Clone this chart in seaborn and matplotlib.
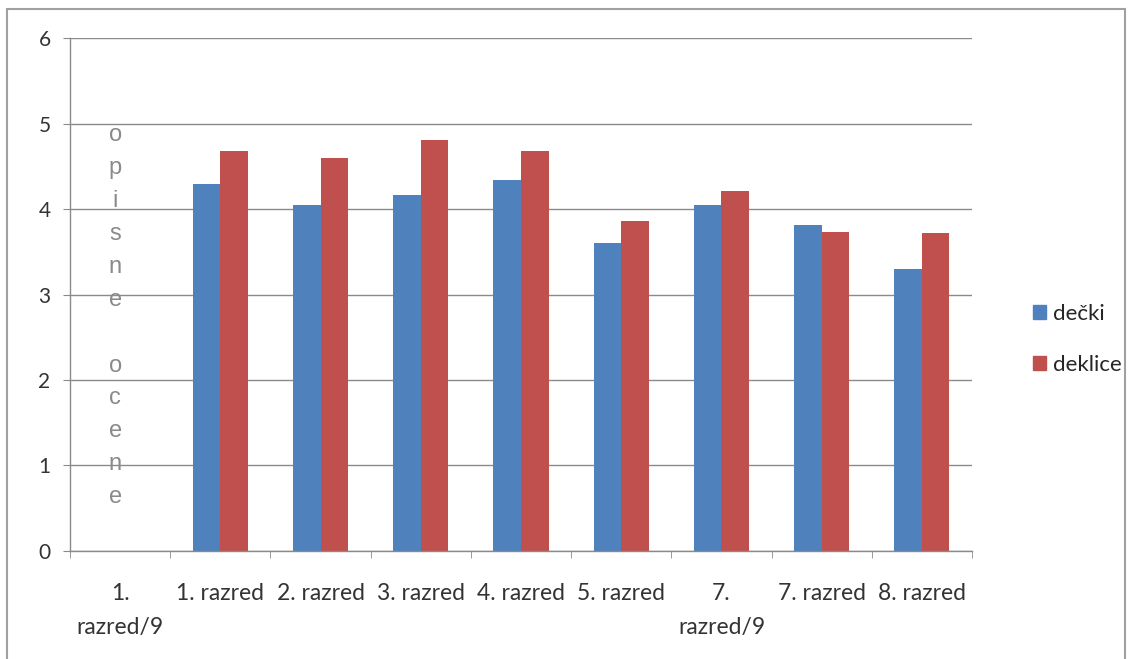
import matplotlib.pyplot as plt
import matplotlib.patches as mpatches
import numpy as np
import pandas as pd
import seaborn as sns

categories = ["1.\nrazred/9", "1. razred", "2. razred", "3. razred", "4. razred",
              "5. razred", "7.\nrazred/9", "7. razred", "8. razred"]
decki = [np.nan, 4.29, 4.05, 4.16, 4.34, 3.60, 4.05, 3.81, 3.30]
deklice = [np.nan, 4.68, 4.60, 4.81, 4.68, 3.86, 4.21, 3.73, 3.72]
series = ["dečki", "deklice"]
colors = ["#4F81BD", "#C0504D"]

df = pd.DataFrame({
    "razred": categories * 2,
    "spol": [series[0]] * len(categories) + [series[1]] * len(categories),
    "ocena": decki + deklice,
})

sns.set_style("white")
plt.rcParams["font.family"] = ["Lato", "DejaVu Sans"]

fig = plt.figure(figsize=(11.35, 6.59), dpi=100)
ax = fig.add_axes([0.0617, 0.1639, 0.7947, 0.7784])

sns.barplot(data=df, x="razred", y="ocena", hue="spol", order=categories,
            hue_order=series, palette=colors, width=0.55, saturation=1,
            linewidth=0, ax=ax)

ax.set_xlim(-0.5, len(categories) - 0.5)
ax.set_ylim(0, 6)
ax.set_yticks(range(0, 7))
ax.yaxis.grid(True, color="#8a8a8a", linewidth=1)
ax.set_axisbelow(True)
ax.set_xlabel("")
ax.set_ylabel("")

for side in ["top", "right"]:
    ax.spines[side].set_visible(False)
for side in ["left", "bottom"]:
    ax.spines[side].set_color("#8a8a8a")
    ax.spines[side].set_linewidth(1)

ax.tick_params(axis="y", length=5, color="#8a8a8a", labelsize=15,
               labelcolor="#333333", pad=9, left=True)
ax.tick_params(axis="x", which="major", length=0, labelsize=16.5,
               labelcolor="#333333", pad=23)
ax.set_xticks(np.arange(-0.5, len(categories)), minor=True)
ax.tick_params(axis="x", which="minor", length=5, color="#8a8a8a", bottom=True)
for lbl in ax.get_xticklabels():
    lbl.set_linespacing(1.75)

ax.text(-0.05, 4.99, "o\np\ni\ns\nn\ne\n\no\nc\ne\nn\ne", ha="center", va="top",
        fontsize=17, color="#8a8a8a", family=["Liberation Sans"], linespacing=1.64)

handles = [mpatches.Patch(color=c, label=s) for c, s in zip(colors, series)]
ax.legend(handles=handles, loc="center left", bbox_to_anchor=(1.045, 0.413),
          frameon=False, fontsize=16, handlelength=0.6, handleheight=0.6,
          handletextpad=0.3, labelspacing=1.4)

fig.patches.append(mpatches.Rectangle((0.006, -0.01), 0.985, 0.997,
                                      transform=fig.transFigure, fill=False,
                                      edgecolor="#a0a0a0", linewidth=1.5))

fig.savefig("out.png", dpi=100)
